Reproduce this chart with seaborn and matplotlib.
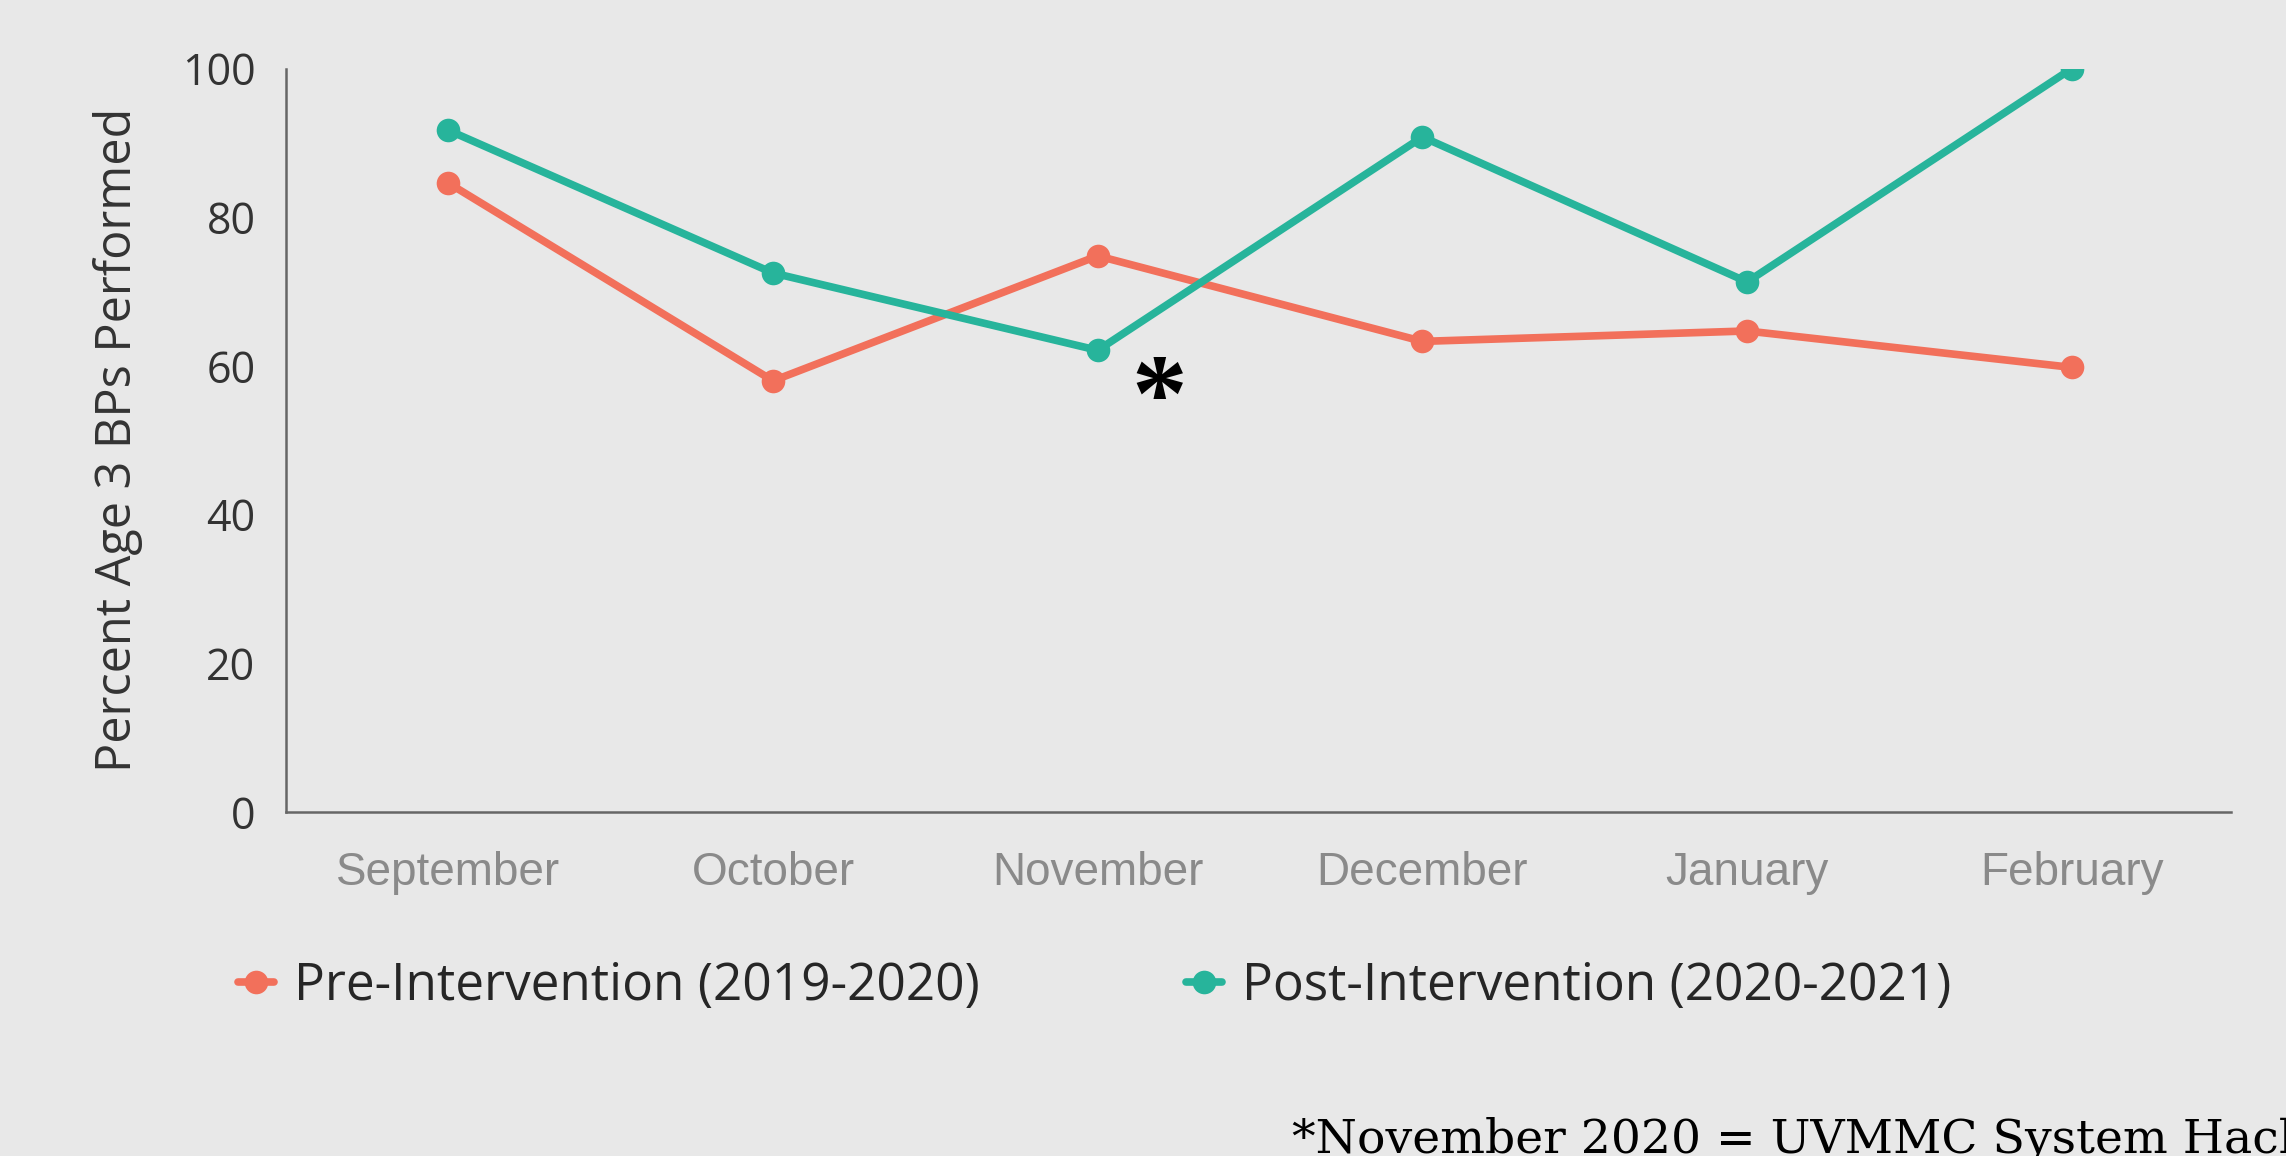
import matplotlib
matplotlib.use("Agg")
import matplotlib.pyplot as plt
import seaborn as sns
import pandas as pd

months = ["September", "October", "November", "December", "January", "February"]
pre_vals = [84.6, 58.0, 74.8, 63.3, 64.7, 59.8]
post_vals = [91.7, 72.5, 62.1, 90.8, 71.3, 100.0]
series_names = ["Pre-Intervention (2019-2020)", "Post-Intervention (2020-2021)"]
y_ticks = [0, 20, 40, 60, 80, 100]
colors = ["#f2705b", "#27b49b"]
bg = "#e8e8e8"

df = pd.DataFrame({
    "month": months * 2,
    "value": pre_vals + post_vals,
    "series": [series_names[0]] * len(months) + [series_names[1]] * len(months),
})

sns.set_theme(style="white")
plt.rcParams["font.family"] = ["Open Sans", "DejaVu Sans"]

fig = plt.figure(figsize=(22.86, 11.56), dpi=100, facecolor=bg)
ax = fig.add_axes([0.1251, 0.2976, 0.8508, 0.6431])
ax.set_facecolor(bg)

sns.lineplot(data=df, x="month", y="value", hue="series", palette=colors,
             marker="o", markersize=17, markeredgewidth=0, linewidth=5.5,
             sort=False, ax=ax, legend=True)

ax.set_xlim(-0.5, 5.49)
ax.set_ylim(0, 100)
ax.set_yticks(y_ticks)
ax.set_yticklabels([str(t) for t in y_ticks], fontsize=31, color="#333333")
ax.set_xticks(range(len(months)))
ax.set_xticklabels(months, fontsize=33, color="#8a8a8a", family=["Liberation Sans"])
ax.tick_params(axis="both", length=0)
ax.tick_params(axis="y", pad=22)
ax.tick_params(axis="x", pad=28)
ax.set_xlabel("")
ax.set_ylabel("Percent Age 3 BPs Performed", fontsize=35, color="#333333", labelpad=28)

for s in ["top", "right"]:
    ax.spines[s].set_visible(False)
for s in ["left", "bottom"]:
    ax.spines[s].set_color("#666666")
    ax.spines[s].set_linewidth(1.8)

handles, labels = ax.get_legend_handles_labels()
ax.legend(handles, labels, ncol=2, loc="center left",
          bbox_to_anchor=(0.095, 0.147), bbox_transform=fig.transFigure,
          frameon=False, fontsize=37, handlelength=0.7, handletextpad=0.4,
          columnspacing=4.0, borderaxespad=0)

ax.text(2.19, 55.0, "*", fontsize=80, fontweight="bold", color="black",
        ha="center", va="center", family=["Liberation Serif"])

fig.text(0.5652, 0.003, "*November 2020 = UVMMC System Hack", fontsize=34,
         color="black", ha="left", va="baseline", family=["DejaVu Serif"])

fig.savefig("out.png", dpi=100, facecolor=bg)
